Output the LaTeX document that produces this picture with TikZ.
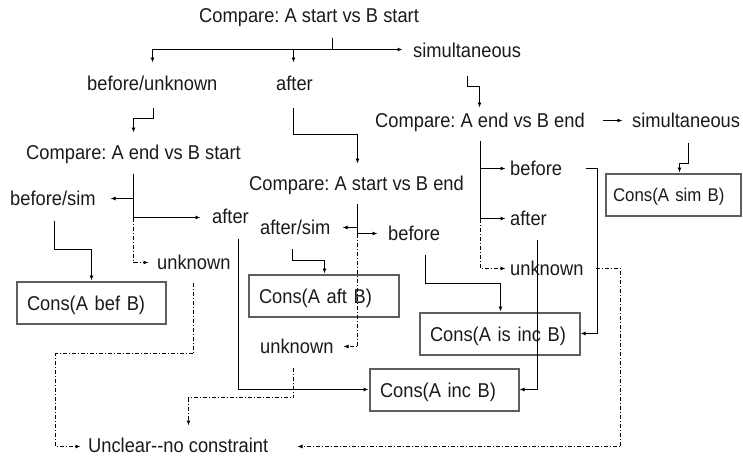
\documentclass[tikz,border=0pt]{standalone}
\usepackage{fontspec}
\newfontfamily\diagfam{Liberation Sans}[FakeStretch=0.915]
\usetikzlibrary{arrows.meta}
\newcommand\dfont{\diagfam\fontsize{20pt}{24pt}\selectfont\frenchspacing}
\definecolor{boxline}{HTML}{5E5E5E}
\definecolor{ink}{HTML}{1A1A1A}

\begin{document}
\begin{tikzpicture}[x=1pt,y=-1pt,
  lbl/.style={inner sep=0pt, text height=14.3pt, text depth=0pt, anchor=west, font=\dfont, text=ink},
  consbox/.style={draw=boxline, line width=2pt, minimum height=42pt, inner xsep=10pt, inner ysep=0pt,
                  anchor=north west, text height=14.3pt, text depth=0pt, font=\dfont, text=ink},
  link/.style={line width=0.9pt, draw=black},
  tip/.style={-{Latex[length=5pt,width=4pt]}},
  dd/.style={dash pattern=on 4pt off 2pt on 1pt off 2pt},
]
\useasboundingbox (0,0) rectangle (743,458);

% ---- labels ----
\node[lbl] (s0)   at (199,15)  {Compare: A start vs B start};
\node[lbl] (simA) at (413,50)  {simultaneous};
\node[lbl] (bu)   at (87,83)   {before/unknown};
\node[lbl] (aft0) at (276,83)  {after};
\node[lbl] (ces)  at (26,152)  {Compare: A end vs B start};
\node[lbl] (cee)  at (375,120) {Compare: A end vs B end};
\node[lbl] (simB) at (632,120) {simultaneous};
\node[lbl] (cse)  at (249,183) {Compare: A start vs B end};
\node[lbl] (bs)   at (10,198)  {before/sim};
\node[lbl] (aft1) at (212,216) {after};
\node[lbl] (unk1) at (157,262) {unknown};
\node[lbl] (as)   at (260,227) {after/sim};
\node[lbl] (bef2) at (388,233) {before};
\node[lbl] (unk2) at (260,346) {unknown};
\node[lbl] (bef3) at (510,168) {before};
\node[lbl] (aft3) at (510,218) {after};
\node[lbl] (unk3) at (510,268) {unknown};
\node[lbl] (uncl) at (88,445)  {Unclear-\kern0pt-no constraint};

% ---- outcome boxes ----
\node[consbox, text width=129pt] (bef)   at (16,281)  {Cons(A bef B)};
\node[consbox, text width=130pt] (aftc)  at (248,274) {Cons(A aft B)};
\node[consbox, text width=140pt] (isinc) at (419,312) {Cons(A is inc B)};
\node[consbox, text width=129pt] (inc)   at (369,368) {Cons(A inc B)};
\node[consbox, text width=121pt, inner xsep=7pt, text height=13.2pt,
      font=\dfont\fontsize{18.4pt}{22pt}\selectfont] (sim) at (605,173) {Cons(A sim B)};

% ---- connectors, set on the pixel grid ----
\begin{scope}[shift={(0.5,0.5)}]
% start vs start
\coordinate (r0) at (332,37);
\coordinate (r1) at (332,49);
\draw[link] (r0) -- (r1);
\draw[link,tip] (r1) -| (152,62);
\draw[link,tip] (293,49) -- (293,62);
\draw[link,tip] (r1) -- (402,49);

\draw[link,tip] (153,107) -- (153,118) -| (133,132);
\draw[link,tip] (293,107) |- (357,134) -- (357,163);
\draw[link,tip] (467,75) |- (479,86) -- (479,107);

% end vs end
\draw[link,tip] (602,120) -- (622,120);
\draw[link,tip] (688,142) |- (679,163) -- (679,172);
\draw[link] (480,140) -- (480,218);
\draw[link,tip] (480,168) -- (505,168);
\draw[link,tip] (480,218) -- (505,218);
\draw[link,dd,tip] (480,218) |- (505,268);
\draw[link,tip] (585,168) -| (597,333) -- (580,333);
\draw[link,tip] (537,239) |- (519,389);
\draw[link,dd,tip] (595,268) -| (620,446) -- (297,446);

% end vs start
\draw[link] (133,173) -- (133,217);
\draw[link,tip] (133,198) -- (110,198);
\draw[link,tip] (133,217) -- (200,217);
\draw[link,dd,tip] (133,217) |- (148,262);
\draw[link,tip] (54,220) |- (91,249) -- (91,280);
\draw[link,tip] (238,238) |- (368,389);
\draw[link,dd,tip] (193,282) |- (55,353) |- (80,446);

% start vs end
\draw[link] (357,203) -- (357,233);
\draw[link,tip] (357,227) -- (342,227);
\draw[link,tip] (357,233) -- (377,233);
\draw[link,dd,tip] (357,233) |- (343,346);
\draw[link,tip] (292,248) |- (324,260) -- (324,273);
\draw[link,tip] (425,254) |- (500,283) -- (500,311);
\draw[link,dd,tip] (293,367) |- (188,397) -- (188,425);
\end{scope}
\end{tikzpicture}
\end{document}
